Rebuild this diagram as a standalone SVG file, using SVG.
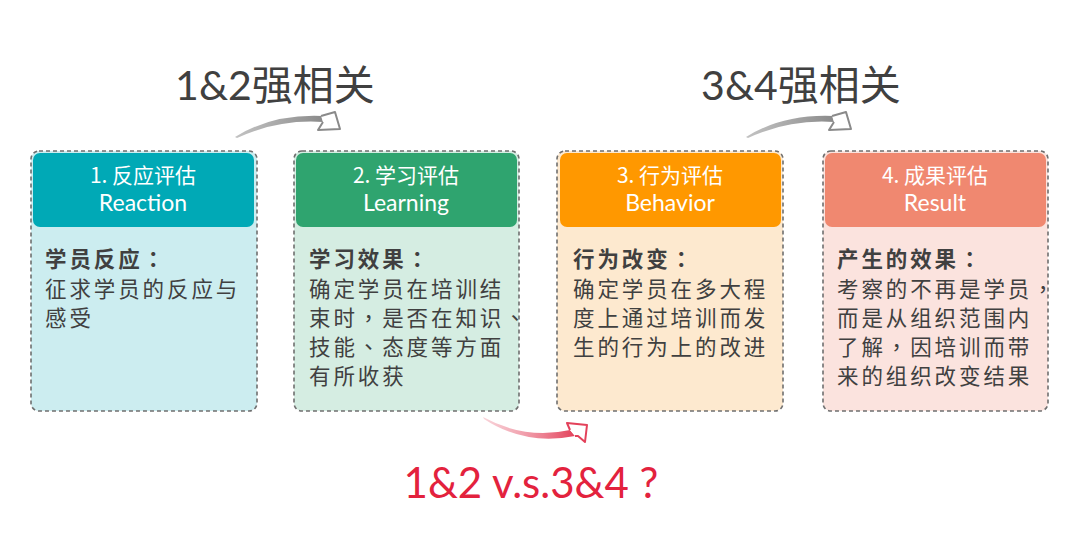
<svg xmlns="http://www.w3.org/2000/svg" width="1080" height="550" viewBox="0 0 1080 550">
<defs>
<style>
.card{stroke:#6f6f6f;stroke-width:1.6;stroke-dasharray:4 3}
.hd{font-family:"Noto Sans CJK SC","Noto Sans",sans-serif;font-size:21px;fill:#ffffff;text-anchor:middle}
.en{font-family:"Lato","Noto Sans CJK SC",sans-serif;font-size:23px;fill:#ffffff;text-anchor:middle}
.body{font-family:"Noto Sans CJK SC",sans-serif;font-size:21.5px;fill:#404040;letter-spacing:2.9px}
.b{font-weight:bold}
.p{font-family:"Noto Sans CJK TC",sans-serif}
.big{font-family:"Lato","Noto Sans CJK SC",sans-serif;font-size:41px;fill:#404040;text-anchor:middle}
.red{font-family:"Lato","Noto Sans",sans-serif;font-size:42px;fill:#e3223d;text-anchor:middle}
.ah{fill:#ffffff;stroke:#8a8a8a;stroke-width:2;stroke-linejoin:round}
</style>
<linearGradient id="gg" x1="0" y1="0" x2="1" y2="0">
<stop offset="0" stop-color="#9a9a9a" stop-opacity="0.6"/>
<stop offset="1" stop-color="#8a8a8a"/>
</linearGradient>
<linearGradient id="rg" x1="0" y1="0" x2="1" y2="0">
<stop offset="0" stop-color="#f2a8b4" stop-opacity="0.5"/>
<stop offset="1" stop-color="#e3415a"/>
</linearGradient>
</defs>

<g id="title-12">
<text class="big" x="275" y="100">1&amp;2强相关</text>
</g>
<g id="title-34">
<text class="big" x="801" y="100">3&amp;4强相关</text>
</g>

<g id="card1">
<rect class="card" x="31" y="151" width="226" height="260" rx="8" fill="#ccedf0"/>
<rect x="33" y="153" width="221" height="74" rx="7" fill="#00a9b6"/>
<text class="hd" x="143" y="183">1. 反应评估</text>
<text class="en" x="143" y="211">Reaction</text>
<text class="body" x="45"><tspan class="b" x="45" y="267">学员反应<tspan class="p">：</tspan></tspan><tspan x="45" y="297">征求学员的反应与</tspan><tspan x="45" y="326">感受</tspan></text>
</g>

<g id="card2">
<rect class="card" x="294" y="151" width="225" height="260" rx="8" fill="#d5ede2"/>
<rect x="296" y="153" width="221" height="74" rx="7" fill="#2fa46f"/>
<text class="hd" x="406" y="183">2. 学习评估</text>
<text class="en" x="406" y="211">Learning</text>
<text class="body" x="309"><tspan class="b" x="309" y="267">学习效果<tspan class="p">：</tspan></tspan><tspan x="309" y="297">确定学员在培训结</tspan><tspan x="309" y="326">束时<tspan class="p">，</tspan>是否在知识<tspan class="p">、</tspan></tspan><tspan x="309" y="355">技能<tspan class="p">、</tspan>态度等方面</tspan><tspan x="309" y="384">有所收获</tspan></text>
</g>

<g id="card3">
<rect class="card" x="557" y="151" width="226" height="260" rx="8" fill="#fde9cf"/>
<rect x="560" y="153" width="221" height="74" rx="7" fill="#ff9800"/>
<text class="hd" x="670" y="183">3. 行为评估</text>
<text class="en" x="670" y="211">Behavior</text>
<text class="body" x="573"><tspan class="b" x="573" y="267">行为改变<tspan class="p">：</tspan></tspan><tspan x="573" y="297">确定学员在多大程</tspan><tspan x="573" y="326">度上通过培训而发</tspan><tspan x="573" y="355">生的行为上的改进</tspan></text>
</g>

<g id="card4">
<rect class="card" x="823" y="151" width="225" height="260" rx="8" fill="#fbe3de"/>
<rect x="825" y="153" width="221" height="74" rx="7" fill="#f08870"/>
<text class="hd" x="935" y="183">4. 成果评估</text>
<text class="en" x="935" y="211">Result</text>
<text class="body" x="837"><tspan class="b" x="837" y="267">产生的效果<tspan class="p">：</tspan></tspan><tspan x="837" y="297">考察的不再是学员<tspan class="p">，</tspan></tspan><tspan x="837" y="326">而是从组织范围内</tspan><tspan x="837" y="355">了解<tspan class="p">，</tspan>因培训而带</tspan><tspan x="837" y="384">来的组织改变结果</tspan></text>
</g>

<g id="connectors">
<g id="arrow-12">
<path d="M235 137 Q272 114 322 116 L323 122 Q278 119 237 138 Z" fill="url(#gg)"/>
<path class="ah" d="M321 116 L335 112 L340 129 L318 130 L323 122"/>
</g>
<g id="arrow-34" transform="translate(511,0)">
<path d="M235 137 Q272 114 322 116 L323 122 Q278 119 237 138 Z" fill="url(#gg)"/>
<path class="ah" d="M321 116 L335 112 L340 129 L318 130 L323 122"/>
</g>
<g id="arrow-red">
<path d="M483 417 Q525 440 570 430 L575 436 Q525 446 484 419 Z" fill="url(#rg)"/>
<path d="M570 430 L567 423 L587 425 L585 442 L578 436 L575 436" fill="#ffffff" stroke="#e3415a" stroke-width="2" stroke-linejoin="round"/>
</g>
</g>

<g id="question">
<text class="red" x="531" y="498">1&amp;2 v.s.3&amp;4 ?</text>
</g>
</svg>
